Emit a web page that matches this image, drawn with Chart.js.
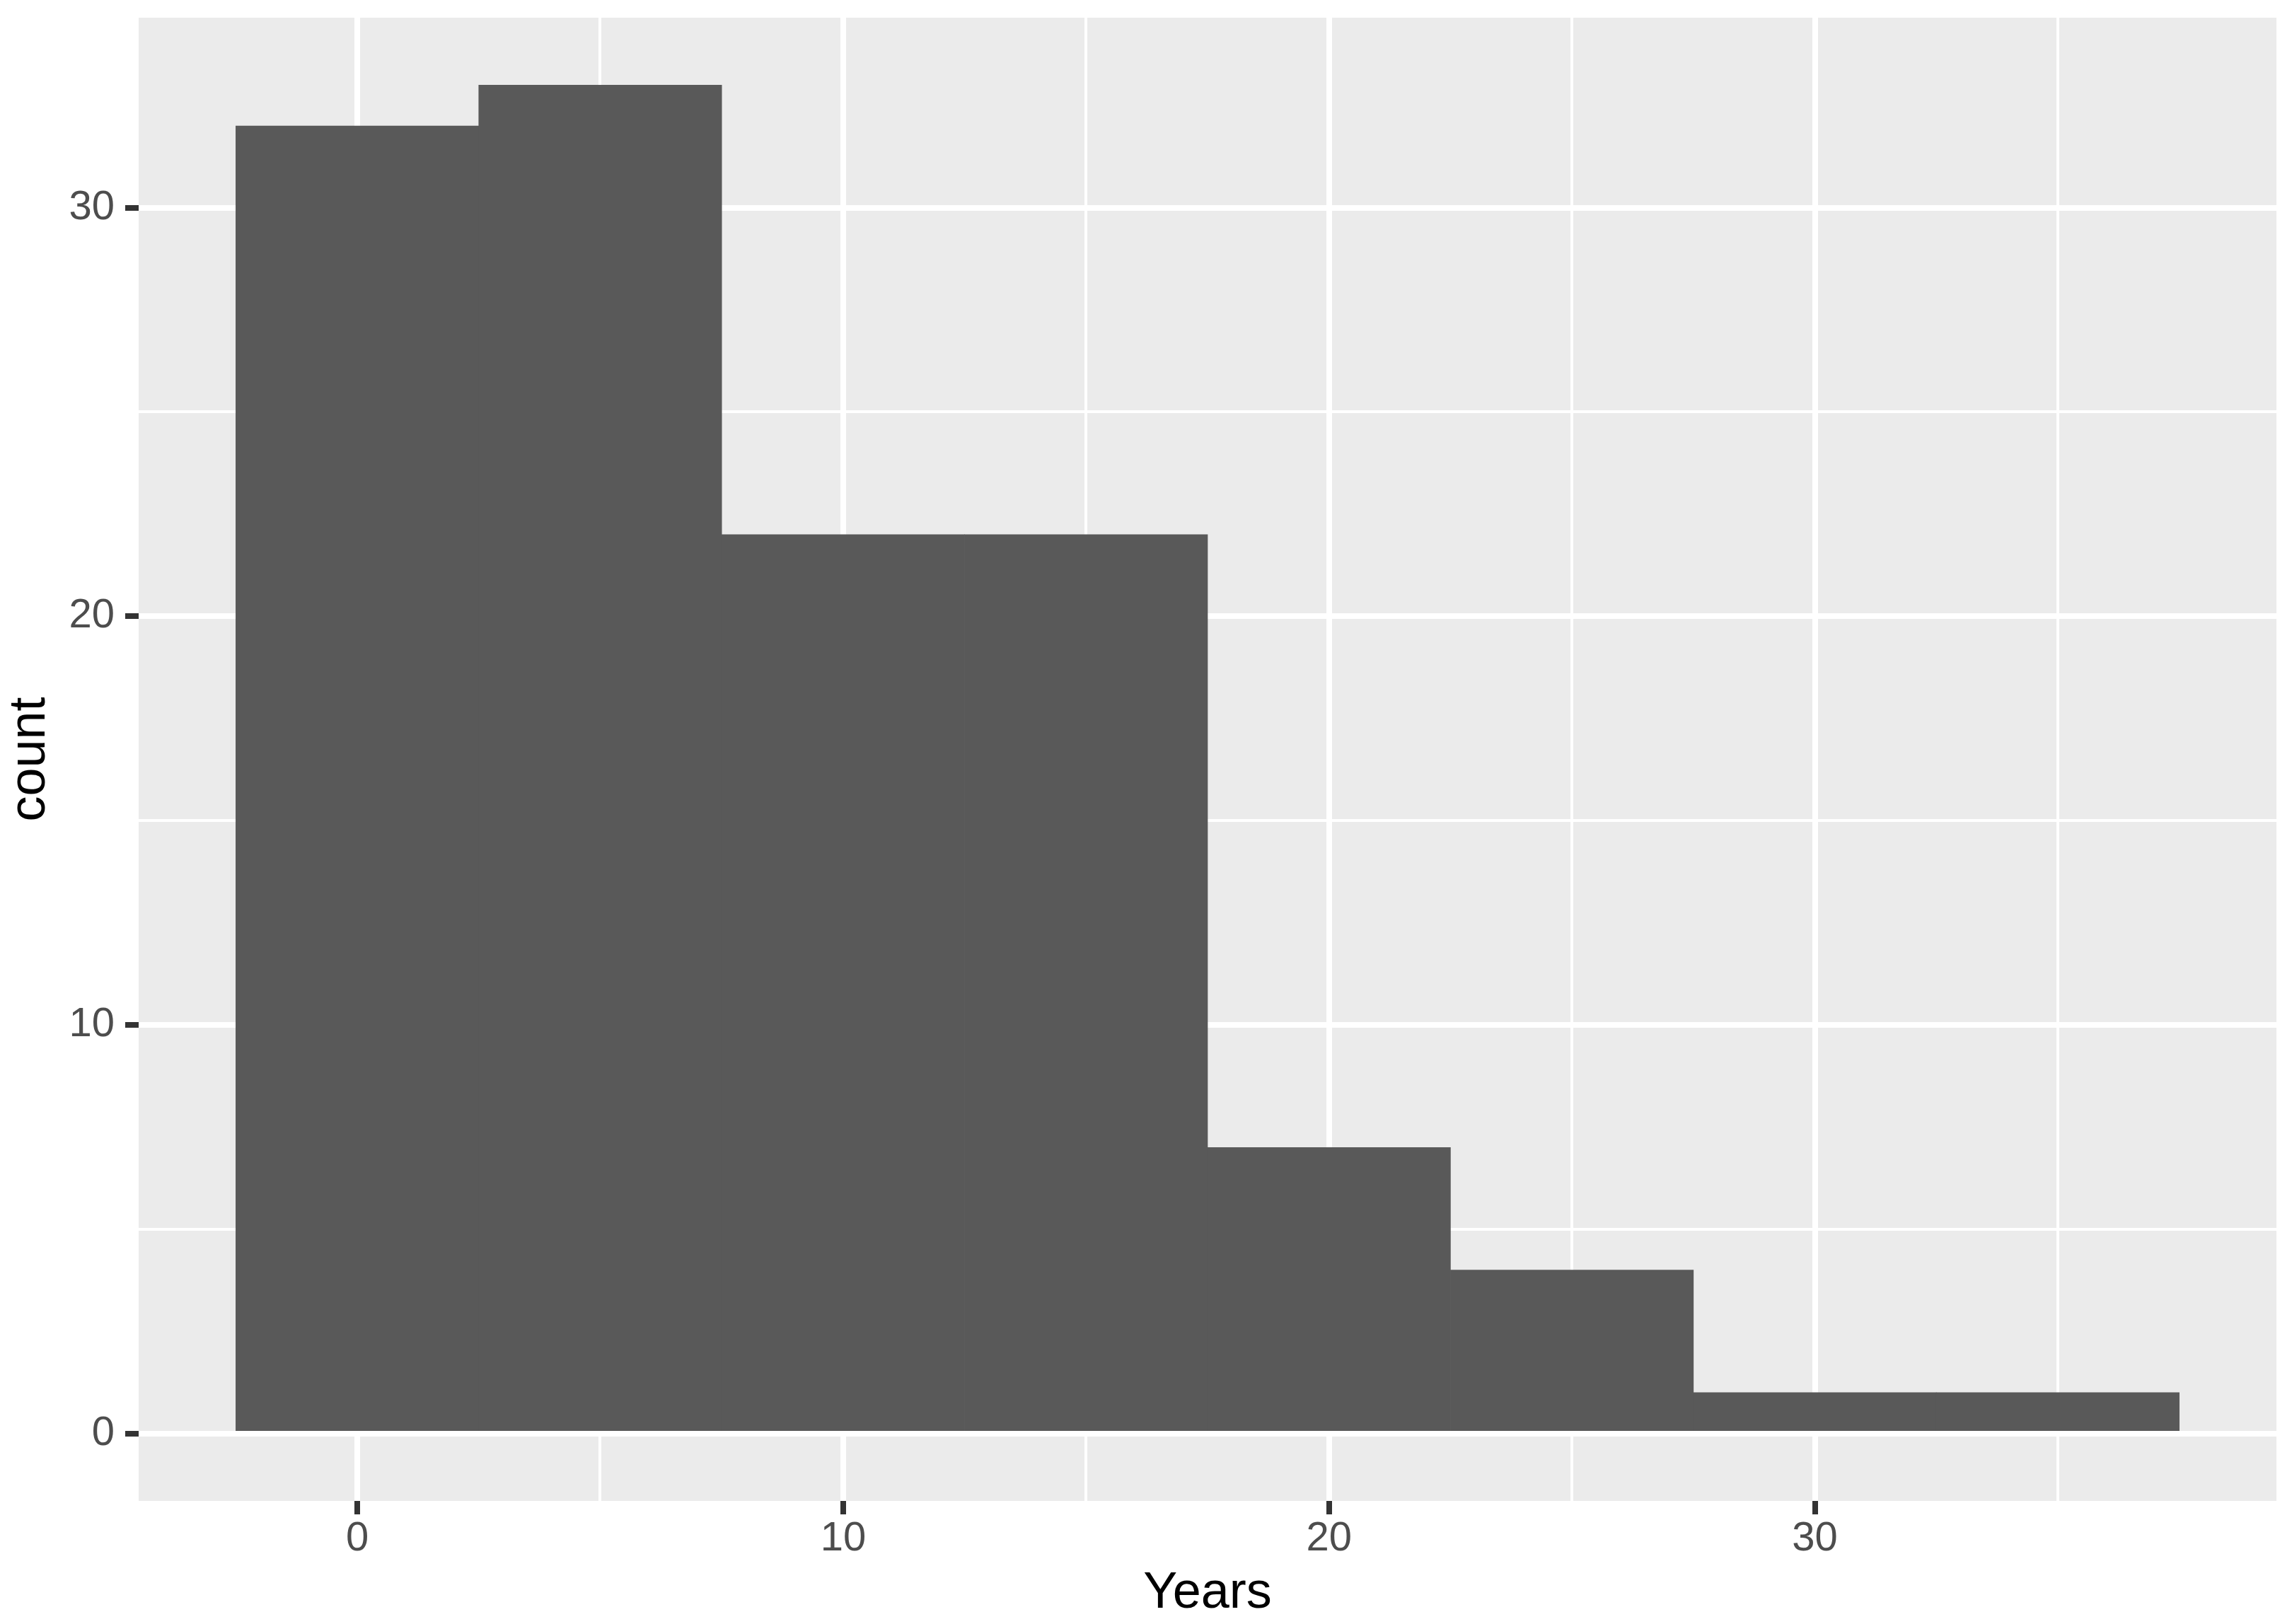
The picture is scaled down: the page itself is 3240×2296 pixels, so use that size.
<!DOCTYPE html>
<html>
<head>
<meta charset="utf-8">
<script src="https://cdn.jsdelivr.net/npm/chart.js@4"></script>
<style>
  html, body { margin: 0; padding: 0; background: #ffffff; }
  canvas { display: block; }
</style>
</head>
<body>
<canvas id="histChart" width="3240" height="2296"></canvas>
<script>
// histogram bins (centre of each 5-year bin) and counts
const binCenters = [0, 5, 10, 15, 20, 25, 30, 35];
const counts = [32, 33, 22, 22, 7, 4, 1, 1];
const xTickLabels = [0, 10, 20, 30];
const yTickLabels = [0, 10, 20, 30];

document.addEventListener("DOMContentLoaded", () => {
    const ctx = document.getElementById("histChart").getContext("2d");

    const fontFamily = "'Liberation Sans', Arial, sans-serif";

    const panelBg = {
        id: "panelBg",
        beforeDraw(chart) {
            const c = chart.ctx;
            const a = chart.chartArea;
            c.save();
            c.fillStyle = "#ffffff";
            c.fillRect(0, 0, chart.width, chart.height);
            c.fillStyle = "#EBEBEB";
            c.fillRect(a.left, a.top, a.right - a.left, a.bottom - a.top);
            c.restore();
        }
    };

    const isMajor = (v, list) => list.includes(v);

    new Chart(ctx, {
        type: "bar",
        data: {
            datasets: [{
                data: binCenters.map((x, i) => ({ x: x, y: counts[i] })),
                backgroundColor: "#595959",
                borderWidth: 0,
                barPercentage: 1,
                categoryPercentage: 1
            }]
        },
        options: {
            responsive: false,
            animation: false,
            devicePixelRatio: 1,
            layout: { padding: { top: 25, right: 22, bottom: 0, left: 0 } },
            plugins: {
                legend: { display: false },
                tooltip: { enabled: false }
            },
            scales: {
                x: {
                    type: "linear",
                    min: -4.5,
                    max: 39.5,
                    offset: false,
                    afterFit(scale) {
                        scale.height = 174;
                        scale.paddingLeft = 0;
                        scale.paddingRight = 0;
                    },
                    border: { display: false },
                    grid: {
                        offset: false,
                        color: "#ffffff",
                        lineWidth: (c) => (c.tick && isMajor(c.tick.value, xTickLabels)) ? 8 : 4,
                        tickColor: (c) => (c.tick && isMajor(c.tick.value, xTickLabels)) ? "#333333" : "rgba(0,0,0,0)",
                        tickWidth: 8,
                        tickLength: 19
                    },
                    ticks: {
                        stepSize: 5,
                        includeBounds: false,
                        autoSkip: false,
                        maxRotation: 0,
                        padding: 0,
                        color: "#4D4D4D",
                        font: { family: fontFamily, size: 58 },
                        callback: (v) => isMajor(v, xTickLabels) ? String(v) : ""
                    },
                    title: {
                        display: true,
                        text: "Years",
                        color: "#000000",
                        padding: 0,
                        font: { family: fontFamily, size: 72 }
                    }
                },
                y: {
                    type: "linear",
                    min: -1.65,
                    max: 34.65,
                    afterFit(scale) {
                        scale.width = 196;
                        scale.paddingTop = 0;
                        scale.paddingBottom = 0;
                    },
                    border: { display: false },
                    grid: {
                        color: "#ffffff",
                        lineWidth: (c) => (c.tick && isMajor(c.tick.value, yTickLabels)) ? 8 : 4,
                        tickColor: (c) => (c.tick && isMajor(c.tick.value, yTickLabels)) ? "#333333" : "rgba(0,0,0,0)",
                        tickWidth: 8,
                        tickLength: 19
                    },
                    ticks: {
                        stepSize: 5,
                        includeBounds: false,
                        autoSkip: false,
                        padding: 15,
                        color: "#4D4D4D",
                        font: { family: fontFamily, size: 58 },
                        callback: (v) => isMajor(v, yTickLabels) ? String(v) : ""
                    },
                    title: {
                        display: true,
                        text: "count",
                        color: "#000000",
                        padding: 0,
                        font: { family: fontFamily, size: 72 }
                    }
                }
            }
        },
        plugins: [panelBg]
    });
});
</script>
</body>
</html>
